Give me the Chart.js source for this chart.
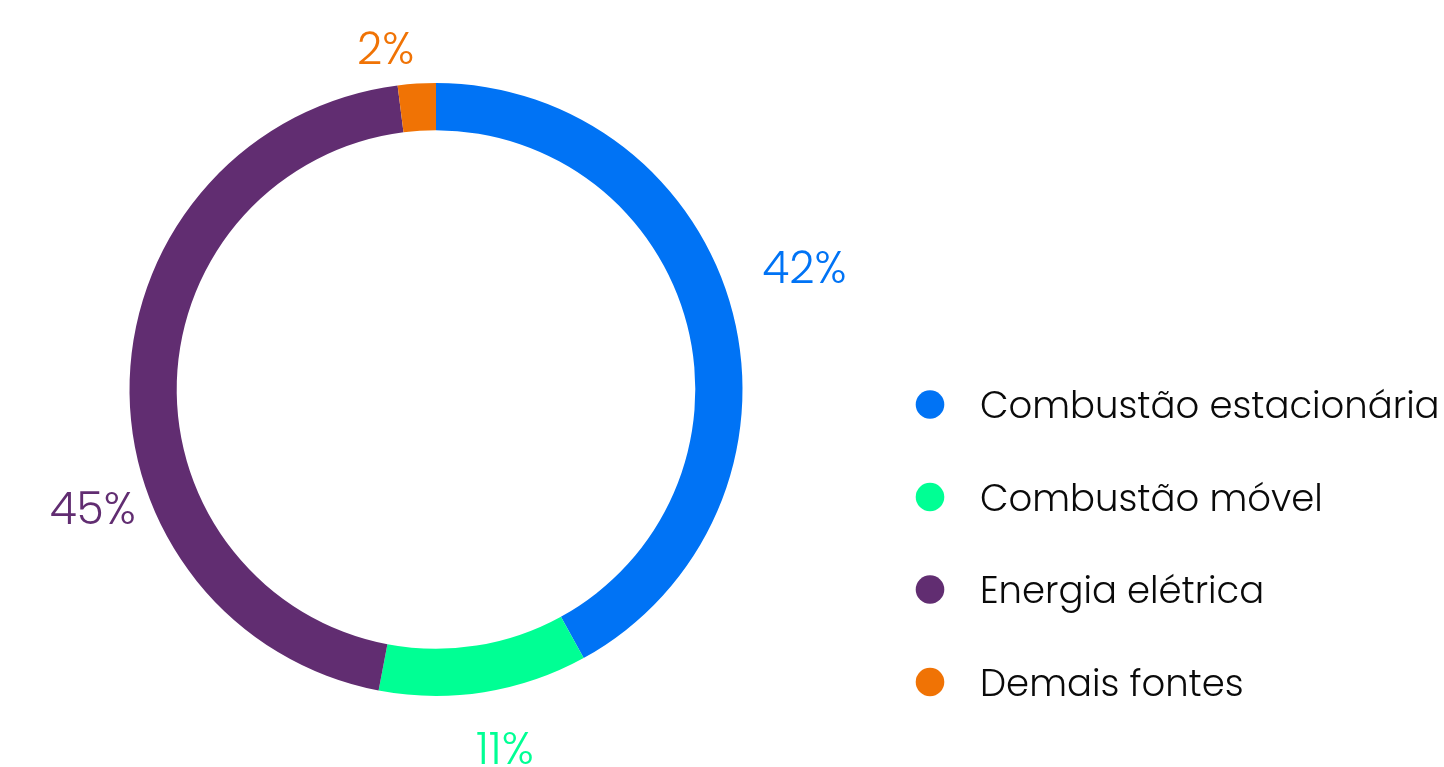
<!DOCTYPE html>
<html lang="pt-BR">
<head>
<meta charset="utf-8">
<title>Emissões por fonte</title>
<script src="https://cdn.jsdelivr.net/npm/chart.js@4.4.1/dist/chart.umd.min.js"></script>
<style>
  html, body { margin: 0; padding: 0; background: #ffffff; }
  #wrap { position: relative; width: 1444px; height: 767px; }
</style>
</head>
<body>
<div id="wrap"><canvas id="chart"></canvas></div>
<script>
// Emission sources and their share of the total (%)
const categories = ['Combustão estacionária', 'Combustão móvel', 'Energia elétrica', 'Demais fontes'];
const shares = [42, 11, 45, 2];
const sliceColors = ['#0073F5', '#00FF94', '#612D71', '#F07305'];
const valueLabels = shares.map(v => v + '%');

const FONT_STACK = '"Poppins", "Inter", "Lato", sans-serif';

// Value labels sit outside the ring along each slice's mid angle, with small nudges
const valueLabelStyle = {
  size: 44,
  weight: 300,
  gap: 50,
  nudges: [[23, -34], [13, 6], [13, 129], [-28, 14]]
};

// Legend block to the right of the ring
const legendStyle = {
  offsetX: 58,      // circle centre, measured from the right edge of the chart area
  textGap: 50,      // circle centre to text start
  firstY: 404.5,
  step: 92.5,
  radius: 14.3,
  size: 37,
  weight: 300,
  color: '#0a0a0a'
};

const valueLabelPlugin = {
  id: 'valueLabels',
  afterDatasetsDraw(chart) {
    const ctx = chart.ctx;
    const meta = chart.getDatasetMeta(0);
    ctx.save();
    ctx.font = `${valueLabelStyle.weight} ${valueLabelStyle.size}px ${FONT_STACK}`;
    ctx.textAlign = 'center';
    ctx.textBaseline = 'alphabetic';
    meta.data.forEach((arc, i) => {
      const p = arc.getProps(['x', 'y', 'startAngle', 'endAngle', 'outerRadius'], true);
      const mid = (p.startAngle + p.endAngle) / 2;
      const r = p.outerRadius + valueLabelStyle.gap;
      const cx = p.x + Math.cos(mid) * r + valueLabelStyle.nudges[i][0];
      const cy = p.y + Math.sin(mid) * r + valueLabelStyle.nudges[i][1];
      const text = valueLabels[i];
      const m = ctx.measureText(text);
      const baseline = cy + (m.actualBoundingBoxAscent - m.actualBoundingBoxDescent) / 2;
      ctx.fillStyle = sliceColors[i];
      ctx.fillText(text, cx, baseline);
    });
    ctx.restore();
  }
};

const sideLegendPlugin = {
  id: 'sideLegend',
  afterDraw(chart) {
    const ctx = chart.ctx;
    const x = chart.chartArea.right + legendStyle.offsetX;
    ctx.save();
    ctx.font = `${legendStyle.weight} ${legendStyle.size}px ${FONT_STACK}`;
    ctx.textAlign = 'left';
    ctx.textBaseline = 'alphabetic';
    const capH = ctx.measureText('C').actualBoundingBoxAscent;
    categories.forEach((name, i) => {
      const y = legendStyle.firstY + i * legendStyle.step;
      ctx.beginPath();
      ctx.arc(x, y, legendStyle.radius, 0, Math.PI * 2);
      ctx.fillStyle = sliceColors[i];
      ctx.fill();
      ctx.fillStyle = legendStyle.color;
      ctx.fillText(name, x + legendStyle.textGap, y + capH / 2);
    });
    ctx.restore();
  }
};

new Chart(document.getElementById('chart'), {
  type: 'doughnut',
  data: {
    labels: categories,
    datasets: [{
      data: shares,
      backgroundColor: sliceColors,
      borderWidth: 0,
      offset: 0,
      hoverOffset: 0,
      spacing: 0
    }]
  },
  options: {
    responsive: true,
    maintainAspectRatio: false,
    animation: false,
    cutout: '84.6%',
    layout: { padding: { left: 0, right: 572, top: 83, bottom: 71 } },
    plugins: {
      legend: { display: false },
      tooltip: { enabled: false }
    }
  },
  plugins: [valueLabelPlugin, sideLegendPlugin]
});
</script>
</body>
</html>
